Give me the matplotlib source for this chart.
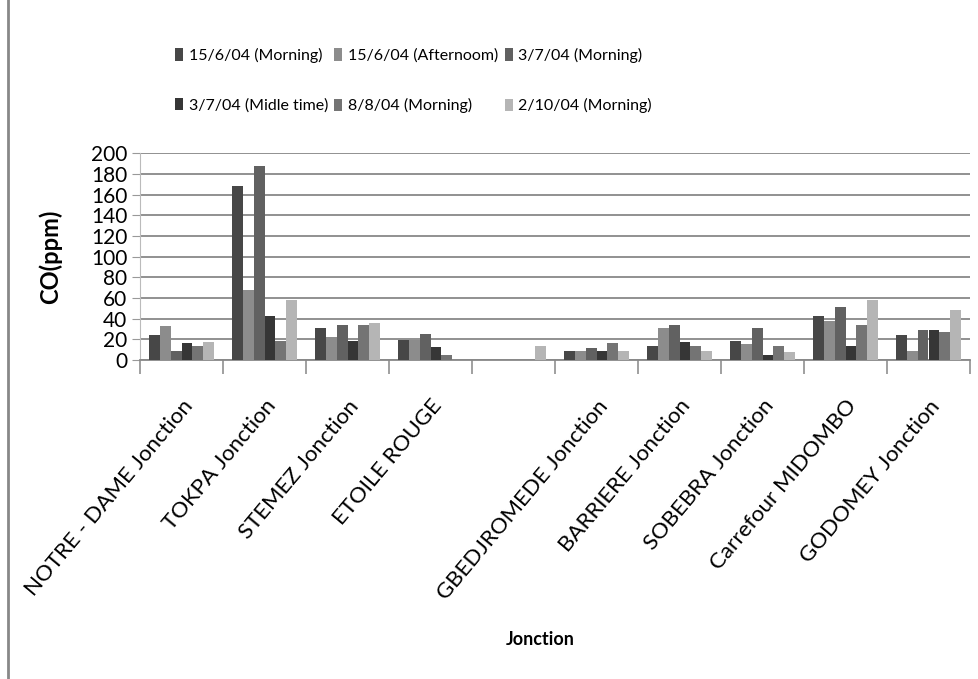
import numpy as np
import matplotlib
matplotlib.use("Agg")
import matplotlib.pyplot as plt
from matplotlib.lines import Line2D

plt.rcParams['font.family'] = ['Lato', 'DejaVu Sans']

# junctions (the 5th label is empty in the original chart)
junctions = ["NOTRE - DAME Jonction", "TOKPA Jonction", "STEMEZ Jonction",
             "ETOILE ROUGE", "", "GBEDJROMEDE Jonction", "BARRIERE Jonction",
             "SOBEBRA Jonction", "Carrefour MIDOMBO", "GODOMEY Jonction"]

series_names = ["15/6/04 (Morning)", "15/6/04 (Afternoom)", "3/7/04 (Morning)",
                "3/7/04 (Midle time)", "8/8/04 (Morning)", "2/10/04 (Morning)"]

# CO (ppm) per junction, one list per measurement date
co_15jun_morning = [24, 168, 31, 19, 0, 9, 14, 18, 43, 24]
co_15jun_afternoon = [33, 68, 22, 19, 0, 9, 31, 15, 38, 9]
co_3jul_morning = [9, 188, 34, 25, 0, 12, 34, 31, 51, 29]
co_3jul_midle = [16, 43, 18, 13, 0, 9, 17, 5, 14, 29]
co_8aug_morning = [14, 18, 34, 5, 0, 16, 14, 14, 34, 27]
co_2oct_morning = [17, 58, 36, 0, 14, 9, 9, 8, 58, 48]

series = [co_15jun_morning, co_15jun_afternoon, co_3jul_morning,
          co_3jul_midle, co_8aug_morning, co_2oct_morning]
colors = ["#474747", "#8c8c8c", "#616161", "#363636", "#747474", "#b5b5b5"]

W, H = 979, 679
fig = plt.figure(figsize=(W / 100, H / 100), dpi=100)
ax = fig.add_axes([140 / W, 1 - 360 / H, 830 / W, 206.7 / H])

x = np.arange(len(junctions))
bw = 0.129
bars = []
for i, (vals, c, name) in enumerate(zip(series, colors, series_names)):
    b = ax.bar(x + (i - 2.5) * bw, vals, width=bw, color=c, label=name,
               linewidth=0, zorder=3)
    bars.append(b)

ax.set_xlim(-0.5, len(junctions) - 0.5)
ax.set_ylim(0, 200)
ax.set_yticks(np.arange(0, 201, 20))
ax.yaxis.grid(True, color="#888888", linewidth=1.3, zorder=0)
ax.tick_params(axis="y", labelsize=15, length=6, color="#999999", pad=3)

ax.set_xticks(x)
ax.set_xticklabels(junctions, rotation=50, ha="right", va="top",
                   rotation_mode="anchor", fontsize=16)
ax.tick_params(axis="x", which="major", length=0, pad=26)
ax.set_xticks(np.arange(-0.5, len(junctions), 1), minor=True)
ax.tick_params(axis="x", which="minor", length=10, color="#999999", width=1.3)

for s in ["top", "right"]:
    ax.spines[s].set_visible(False)
ax.spines["left"].set_color("#bbbbbb")
ax.spines["bottom"].set_color("#888888")
ax.spines["bottom"].set_linewidth(1.3)

ax.set_ylabel("CO(ppm)", fontsize=17, fontweight="bold")
ax.yaxis.set_label_coords(-0.094, 0.5)
ax.set_xlabel("Jonction", fontsize=13, fontweight="bold")
ax.xaxis.set_label_coords(0.482, -1.31)

# legend filled row by row, like the original
order = [0, 3, 1, 4, 2, 5]
fig.legend([bars[k] for k in order], [series_names[k] for k in order],
           loc="upper left", bbox_to_anchor=(175 / W, 1 - 48 / H), ncol=3,
           frameon=False, fontsize=11.5, handlelength=0.5, handleheight=0.8,
           handletextpad=0.35, columnspacing=0.4, labelspacing=2.2,
           borderpad=0, borderaxespad=0)

fig.add_artist(Line2D([8 / W, 8 / W], [0, 1], color="#888888", linewidth=2))

fig.savefig("out.png", dpi=100)
